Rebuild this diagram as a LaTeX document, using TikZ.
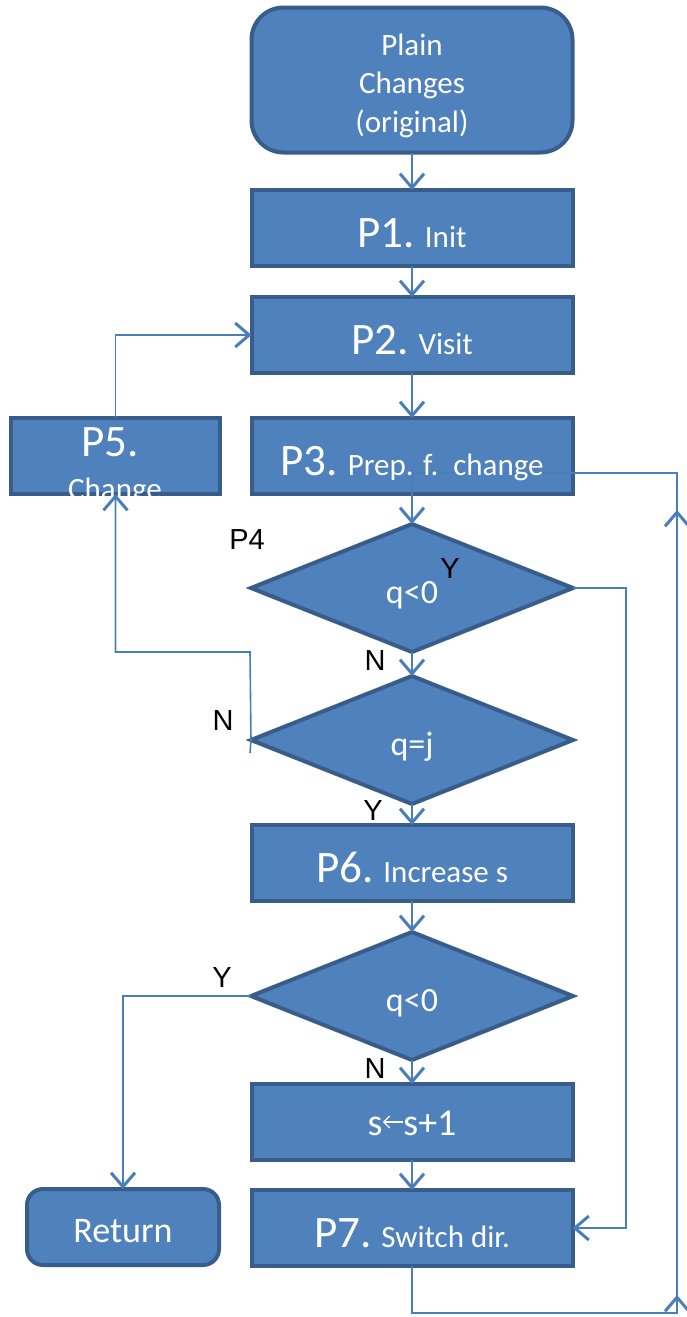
\documentclass[tikz,border=0pt]{standalone}
\usepackage{fontspec}
\newfontfamily\calib{Carlito}
\newfontfamily\arialf{Liberation Sans}
\usetikzlibrary{shapes.geometric,arrows.meta,decorations.markings}
\definecolor{boxfill}{HTML}{4F81BD}
\definecolor{boxline}{HTML}{385D8A}
\definecolor{conn}{HTML}{4A7EBB}
\newcommand{\bigp}[1]{{\fontsize{45}{54}\selectfont #1}}
\newcommand{\smp}[1]{{\fontsize{31}{37}\selectfont #1}}
\newcommand{\lftarr}{\tikz[baseline=0pt,x=1pt,y=1pt]{\useasboundingbox (0,0) rectangle (21,20);
  \draw[white, line width=1.2pt, -{Straight Barb[length=6pt,width=12pt,line width=1.2pt]}] (21,13) -- (0.5,13);}}
\begin{document}
\begin{tikzpicture}[x=1pt,y=-1pt,
  every node/.style={inner sep=0pt, outer sep=0pt},
  >={Straight Barb[length=14pt,width=24pt,line width=3pt]},
  box/.style={draw=boxline, fill=boxfill, line width=4pt, minimum width=321pt,
    minimum height=76pt, text=white, font=\calib, text height=39pt, text depth=0pt},
  boxtext/.style={minimum width=321pt, minimum height=76pt, text=white, font=\calib,
    text height=39pt, text depth=0pt},
  dia/.style={shape=diamond, draw=boxline, fill=boxfill, line width=4pt,
    minimum width=322pt, minimum height=128pt, text=white,
    font=\calib\fontsize{34}{40}\selectfont, text height=31pt, text depth=0pt},
  lab/.style={text=black, font=\arialf\fontsize{29}{34}\selectfont},
  cn/.style={draw=conn, line width=1.6pt},
]
\useasboundingbox (0,0) rectangle (687,1317);

% nodes
\node[box, rounded corners=32pt, minimum height=145pt, align=center,
  text height=104pt, text depth=0pt, font=\calib\fontsize{31}{38.5}\selectfont]
  (S) at (412,80) {Plain\\Changes\\(original)};
\node[box] (P1) at (412,228) {\bigp{P1.}\hspace{10pt}\smp{Init}};
\node[box] (P2) at (412,335) {\bigp{P2.}\hspace{10pt}\smp{Visit}};
\node[box] (P3) at (412,456) {};
\node[box, minimum width=209pt] (P5) at (115.5,456) {};
\node[dia] (D1) at (412,588) {q<0};
\node[dia] (D2) at (412,740) {q=j};
\node[box] (P6) at (412,863) {\bigp{P6.}\hspace{10pt}\smp{Increase s}};
\node[dia] (D3) at (412,996) {q<0};
\node[box, font=\calib\fontsize{38}{44}\selectfont, text height=26pt]
  (S1) at (412,1122) {s\lftarr s+1};
\node[box] (P7) at (412,1228) {\bigp{P7.}\hspace{10pt}\smp{Switch dir.}};
\node[box, rounded corners=16pt, minimum width=192pt,
  font=\calib\fontsize{36}{42}\selectfont, text height=30pt]
  (R) at (123,1227) {Return};

% P5 text, clipped to its box
\begin{scope}
  \clip (9,414) rectangle (222,497.5);
  \node[anchor=base, text=white, font=\calib] (P5a) at (110,456) {\bigp{P5.}};
  \node[anchor=base, text=white, font=\calib] (P5b) at (115,499) {\smp{Change}};
\end{scope}

\coordinate (p3c) at (412,473);

% connectors
\draw[cn,->] (S) -- (P1);
\draw[cn,->] (P1) -- (P2);
\draw[cn,->] (P2) -- (P3);
\draw[cn,->] (p3c) -- (D1.north);
\draw[cn,->] (D1.south) -- (D2.north);
\draw[cn,->] (D2.south) -- (P6.north);
\draw[cn,->] (P6) -- (D3.north);
\draw[cn,->] (D3.south) -- (S1.north);
\draw[cn,->] (S1) -- (P7);
\draw[cn,->] (D2.west) -- (250,652) -| (P5.south);
\draw[cn] (D2.west) -- (250,753);
\draw[cn,->] (P5.north) |- (P2.west);
\draw[cn,->] (D1.east) -- (626,588) |- (P7.east);
\draw[cn,->] (D3.west) -- (123,996) -- (R.north);
\draw[cn, postaction={decorate}, decoration={markings,
    mark=at position 330pt with {\arrow{>}},
    mark=at position 1115pt with {\arrow{>}}}]
  (P7.south) -- (412,1313) -- (677,1313) -- (677,473) -- (p3c);

% P3 text on top
\node[boxtext] (P3t) at (P3) {\bigp{P3.}\hspace{10pt}\smp{Prep. f.\hspace{15pt}change}};

% labels
\node[lab] (lP4) at (247,540) {P4};
\node[lab] (lY1) at (450,569) {Y};
\node[lab] (lN1) at (375,661) {N};
\node[lab] (lN2) at (223,721) {N};
\node[lab] (lY2) at (373,811) {Y};
\node[lab] (lY3) at (222,978) {Y};
\node[lab] (lN3) at (375,1069) {N};
\end{tikzpicture}
\end{document}
